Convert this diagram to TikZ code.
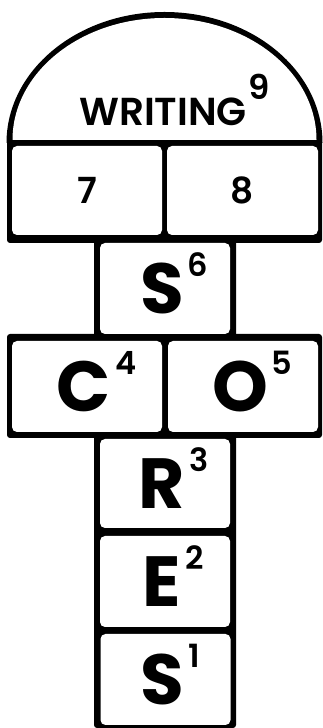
\documentclass[tikz,border=0pt]{standalone}
\usepackage{fontspec}
\setmainfont{Poppins}
\newfontfamily\semifont{Poppins SemiBold}
\usepackage{tikz}

\tikzset{
  tile/.style={rectangle, rounded corners=5pt, fill=white, inner sep=0pt,
    minimum width=130pt, minimum height=90pt},
  wide/.style={tile, minimum width=150pt}
}
\newcommand{\hopletter}[2]{\kern-6pt{\fontsize{71}{71}\selectfont\bfseries #1}%
  \rlap{\kern4pt\smash{\raisebox{37pt}{\semifont\fontsize{32}{32}\selectfont #2}}}}

\begin{document}
\begin{tikzpicture}[x=1pt, y=1pt]
                \useasboundingbox (0,0) rectangle (323,728);
                % Outline
                \fill[black] (6.5,585) arc[start angle=180, end angle=0, x radius=158, y radius=131] -- cycle;
                \fill[black, rounded corners=3pt] (7,485) rectangle (322,588);
                \fill[black, rounded corners=3pt] (7,290) rectangle (322,394);
                \fill[black, rounded corners=3pt] (94,0) rectangle (236,491);
                \fill[white] (12.5,588) arc[start angle=180, end angle=0, x radius=152, y radius=122] -- cycle;
                % Nodes
                \node (writing) at (163,616) {\semifont\fontsize{39}{39}\selectfont WRITING\rlap{\kern2pt\smash{\raisebox{26pt}{\fontsize{34}{34}\selectfont 9}}}};
                \node[wide, minimum height=89pt] (seven) at (87,537.5) {\semifont\fontsize{36}{36}\selectfont 7};
                \node[wide, minimum width=151pt, minimum height=89pt] (eight) at (242.5,537.5) {\semifont\fontsize{36}{36}\selectfont 8};
                \node[tile, minimum height=91pt] (six) at (165,439.5) {\hopletter{S}{6}};
                \node[wide, minimum height=91pt] (four) at (87,341.5) {\hopletter{C}{4}};
                \node[wide, minimum height=91pt] (five) at (243,341.5) {\hopletter{O}{5}};
                \node[tile, minimum height=89pt] (three) at (165,244.5) {\hopletter{R}{3}};
                \node[tile, minimum height=91pt] (two) at (165,146.5) {\hopletter{E}{2}};
                \node[tile, minimum height=91pt] (one) at (165.5,48.5) {\hopletter{S}{1}};
            \end{tikzpicture}
\end{document}
